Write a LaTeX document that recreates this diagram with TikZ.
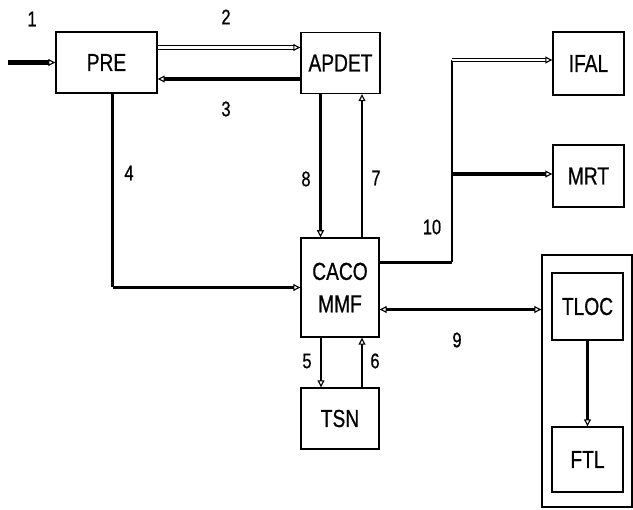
\documentclass[tikz,border=0pt]{standalone}
\usepackage{fontspec}
\setmainfont{Liberation Sans}[FakeStretch=0.78,FakeBold=0.6]
\usetikzlibrary{arrows.meta,positioning,calc}

\begin{document}
\begin{tikzpicture}[
  x=0.025cm,y=-0.025cm,
  >={Triangle[open,line width=0.8pt,length=5pt,width=5pt]},
  blk/.style={draw,line width=1pt,inner sep=0pt,font=\fontsize{17.5}{20}\selectfont,align=center},
  num/.style={font=\fontsize{15}{17}\selectfont},
  thk/.style={->,line width=2.6pt},
  thn/.style={->,line width=1.8pt},
  dbl/.style={->,line width=0.9pt,double,double distance=1.5pt}
]
\useasboundingbox (0,0) rectangle (633,510);
% blocks
\node[blk,minimum width=2.525cm,minimum height=1.525cm] (pre) at (106.5,62.5) {PRE};
\node[blk,minimum width=1.975cm,minimum height=1.525cm] (apdet) at (340.5,63) {APDET};
\node[blk,minimum width=1.775cm,minimum height=1.575cm] (ifal) at (588.5,63.5) {IFAL};
\node[blk,minimum width=1.775cm,minimum height=1.55cm] (mrt) at (588.5,176) {MRT};
\node[blk,minimum width=1.95cm,minimum height=2.475cm] (caco) at (340,287.5) {CACO\\[3pt]MMF};
\node[blk,minimum width=1.95cm,minimum height=1.525cm] (tsn) at (340,418.5) {TSN};
\node[draw,line width=1pt,inner sep=0pt,minimum width=2.25cm,minimum height=6.3cm] (grp) at (587,381) {};
\node[blk,minimum width=1.775cm,minimum height=1.675cm] (tloc) at (587.5,306.5) {TLOC};
\node[blk,minimum width=1.775cm,minimum height=1.625cm] (ftl) at (587.5,459.5) {FTL};
% connectors
\coordinate (src) at (8,62.5);
\draw[thk,line width=3pt] (src) -- (pre);
\coordinate (c2) at ($(pre.east)+(0,-15)$);
\draw[dbl] (c2) -- (c2 -| apdet.west);
\coordinate (c3) at ($(apdet.west)+(0,16)$);
\draw[thk] (c3) -- (c3 -| pre.east);
\coordinate (c4) at ($(pre.south)+(6,0)$);
\draw[line width=1.8pt] (c4) -- (c4 |- caco.west);
\draw[thk] (c4 |- caco.west) -- (caco.west);
\coordinate (c8) at ($(apdet.south)+(-20,0)$);
\draw[thn] (c8) -- (c8 |- caco.north);
\coordinate (c7) at ($(caco.north)+(22,0)$);
\draw[thn] (c7) -- (c7 |- apdet.south);
\coordinate (c5) at ($(caco.south)+(-19,0)$);
\draw[thn] (c5) -- (c5 |- tsn.north);
\coordinate (c6) at ($(tsn.north)+(22,0)$);
\draw[thn] (c6) -- (c6 |- caco.south);
\coordinate (c10) at ($(caco.east)+(0,-25)$);
\coordinate (b10) at (452,262.5);
\coordinate (t10) at (452,60);
\coordinate (m10) at (452,174);
\draw[line width=2.6pt] (c10) -- (b10);
\draw[line width=1.8pt] (b10) -- (t10);
\draw[dbl] (t10) -- (t10 -| ifal.west);
\draw[thk] (m10) -- (m10 -| mrt.west);
\coordinate (c9) at ($(caco.east)+(0,22)$);
\draw[thk,<->] (c9) -- (c9 -| grp.west);
\draw[thn] (tloc) -- (ftl);
% labels
\node[num] (l1) at (32,19) {1};
\node[num] (l2) at (226,17) {2};
\node[num] (l3) at (226,109) {3};
\node[num] (l4) at (129,173) {4};
\node[num] (l8) at (306,179) {8};
\node[num] (l7) at (376,178) {7};
\node[num] (l10) at (432,227) {10};
\node[num] (l9) at (457,340) {9};
\node[num] (l5) at (307,361) {5};
\node[num] (l6) at (375,361) {6};
\end{tikzpicture}
\end{document}
